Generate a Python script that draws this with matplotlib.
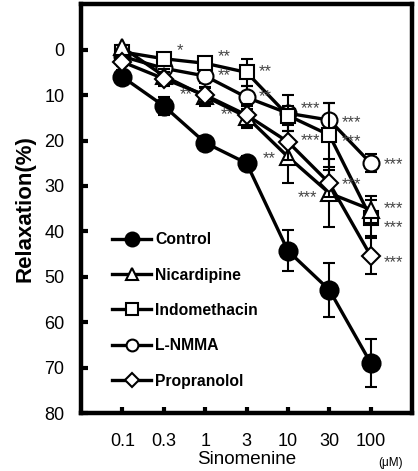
import matplotlib
matplotlib.use("Agg")
import matplotlib.pyplot as plt
from matplotlib.lines import Line2D
import numpy as np

plt.rcParams['font.family'] = ['Liberation Sans', 'DejaVu Sans']

doses = ["0.1", "0.3", "1", "3", "10", "30", "100"]
control = [6.0, 12.4, 20.5, 25.0, 44.3, 52.9, 69.0]
control_err = [1.5, 2.0, 1.5, 1.5, 4.5, 6.0, 5.3]
nicardipine = [-0.5, 5.8, 10.3, 14.8, 23.6, 31.6, 35.2]
nicardipine_err = [0.5, 1.5, 2.0, 2.5, 5.7, 7.5, 3.0]
indomethacin = [0.5, 2.0, 3.0, 5.0, 14.5, 18.8, 37.0]
indomethacin_err = [0.5, 1.0, 1.0, 3.0, 2.0, 7.0, 4.0]
lnmma = [1.5, 4.1, 5.8, 10.5, 14.0, 15.5, 25.0]
lnmma_err = [1.0, 1.0, 1.5, 2.5, 4.0, 3.7, 2.0]
propranolol = [2.7, 6.4, 10.0, 14.4, 20.3, 29.4, 45.4]
propranolol_err = [1.0, 1.5, 1.5, 2.5, 4.0, 3.0, 4.0]

# significance marks: (dose index, value, text)
sig_right = [(1, 0.0, "*"), (2, 1.3, "**"), (3, 4.5, "**"), (2, 5.5, "**"),
             (3, 10.0, "**"), (4, 12.7, "***"), (5, 15.8, "***"), (5, 20.0, "***"),
             (4, 19.7, "***"), (5, 29.5, "***"), (6, 25.0, "***"), (6, 34.6, "***"),
             (6, 38.8, "***"), (6, 46.5, "***")]
sig_left = [(2, 9.6, "**"), (3, 14.0, "**"), (4, 23.6, "**"), (5, 32.2, "***")]

fig = plt.figure(figsize=(4.18, 4.71), dpi=100)
ax = fig.add_axes([0.194, 0.123, 0.792, 0.868])
x = np.arange(1, len(doses) + 1)

series = [
    ("Control", control, control_err, 'o', 'black', 13),
    ("Nicardipine", nicardipine, nicardipine_err, '^', 'white', 11),
    ("Indomethacin", indomethacin, indomethacin_err, 's', 'white', 10.5),
    ("L-NMMA", lnmma, lnmma_err, 'o', 'white', 11.5),
    ("Propranolol", propranolol, propranolol_err, 'D', 'white', 9),
]
order = [4, 3, 2, 1, 5]
handles = []
for (name, vals, err, mk, fc, ms), z in zip(series, order):
    ax.errorbar(x, vals, yerr=err, color='black', lw=2.4, marker=mk, ms=ms,
                mfc=fc, mec='black', mew=1.5, capsize=4, capthick=1.5,
                elinewidth=1.5, zorder=z)
    hms = 10 if fc == 'black' else (7 if mk == 'D' else 8.5)
    handles.append(Line2D([], [], color='black', lw=2.4, marker=mk, ms=hms,
                          mfc=fc, mec='black', mew=1.5, label=name))

for i, v, t in sig_right:
    ax.annotate(t, (x[i], v), xytext=(9, -1), textcoords='offset points',
                ha='left', va='center', fontsize=12, color='#444444')
for i, v, t in sig_left:
    ax.annotate(t, (x[i], v), xytext=(-9, -1), textcoords='offset points',
                ha='right', va='center', fontsize=12, color='#444444')

ax.set_xlim(0, 8)
ax.set_ylim(80, -10)
ax.set_yticks(np.arange(0, 81, 10))
ax.set_xticks(x)
ax.set_xticklabels(doses)
ax.tick_params(axis='both', direction='in', length=5, width=3, labelsize=13, pad=12)
ax.tick_params(axis='x', length=4, pad=14)
for s in ax.spines.values():
    s.set_linewidth(3.2)

ax.set_ylabel("Relaxation(%)", fontsize=16, fontweight='bold', labelpad=6)
ax.set_xlabel("Sinomenine", fontsize=13.5, labelpad=1)
fig.text(0.935, 0.018, "(μM)", fontsize=8.5, ha='center', va='center')

leg = ax.legend(handles=handles, loc='upper left', bbox_to_anchor=(0.075, 0.458),
                frameon=False, handlelength=2.5, handletextpad=0.25,
                labelspacing=1.3, prop={'size': 11.3, 'weight': 'bold'},
                borderaxespad=0)

fig.savefig("out.png", dpi=100)
